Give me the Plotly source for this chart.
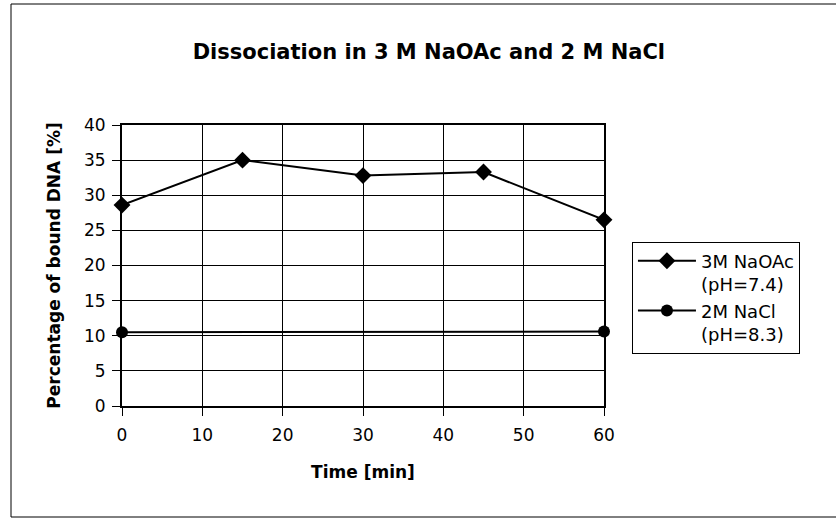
import plotly.graph_objects as go

time_naoac = [0, 15, 30, 45, 60]
naoac = [28.6, 35.0, 32.8, 33.3, 26.5]
time_nacl = [0, 60]
nacl = [10.5, 10.6]
x_ticks = [0, 10, 20, 30, 40, 50, 60]
y_ticks = [0, 5, 10, 15, 20, 25, 30, 35, 40]

FONT = "DejaVu Sans, Arial, sans-serif"

fig = go.Figure()
fig.add_trace(go.Scatter(
    x=time_naoac, y=naoac, mode="lines+markers", name="3M NaOAc<br>(pH=7.4)",
    line=dict(color="black", width=2),
    marker=dict(symbol="diamond", size=13, color="black"),
    cliponaxis=False))
fig.add_trace(go.Scatter(
    x=time_nacl, y=nacl, mode="lines+markers", name="2M NaCl<br>(pH=8.3)",
    line=dict(color="black", width=2),
    marker=dict(symbol="circle", size=12, color="black"),
    cliponaxis=False))

fig.update_layout(
    width=836, height=520,
    margin=dict(l=122, r=232, t=125, b=114),
    paper_bgcolor="white", plot_bgcolor="white",
    font=dict(family=FONT, color="black", size=16),
    title=dict(text="<b>Dissociation in 3 M NaOAc and 2 M NaCl</b>",
               xref="container", x=0.513, xanchor="center",
               yref="container", y=0.9, yanchor="middle",
               font=dict(size=21, family=FONT)),
    showlegend=True,
    legend=dict(x=1.058, xanchor="left", y=0.386, yanchor="middle",
                bordercolor="black", borderwidth=1, bgcolor="white",
                font=dict(size=18, family=FONT), tracegroupgap=6,
                itemwidth=58, valign="top"),
    xaxis=dict(range=[0, 60], tickvals=x_ticks, showgrid=True, gridcolor="black",
               gridwidth=1, showline=True, linecolor="black", linewidth=2,
               mirror=True, ticks="outside", ticklen=8, tickcolor="black",
               zeroline=False, ticklabelstandoff=5,
               title=dict(text="<b>Time [min]</b>", font=dict(size=17), standoff=22),
               tickfont=dict(size=17)),
    yaxis=dict(range=[0, 40], tickvals=y_ticks, showgrid=True, gridcolor="black",
               gridwidth=1, showline=True, linecolor="black", linewidth=2,
               mirror=True, ticks="outside", ticklen=8, tickcolor="black",
               zeroline=False, ticklabelstandoff=3,
               title=dict(text="<b>Percentage of bound DNA [%]</b>", font=dict(size=17), standoff=19),
               tickfont=dict(size=17)),
)

# outer chart frame
fig.add_shape(type="rect", xref="paper", yref="paper",
              x0=(11 - 122) / 482, x1=(840 - 122) / 482,
              y0=(406 - 517) / 281, y1=(406 - 4) / 281,
              line=dict(color="black", width=1), fillcolor="rgba(0,0,0,0)", layer="below")

fig.write_html("out.html")
